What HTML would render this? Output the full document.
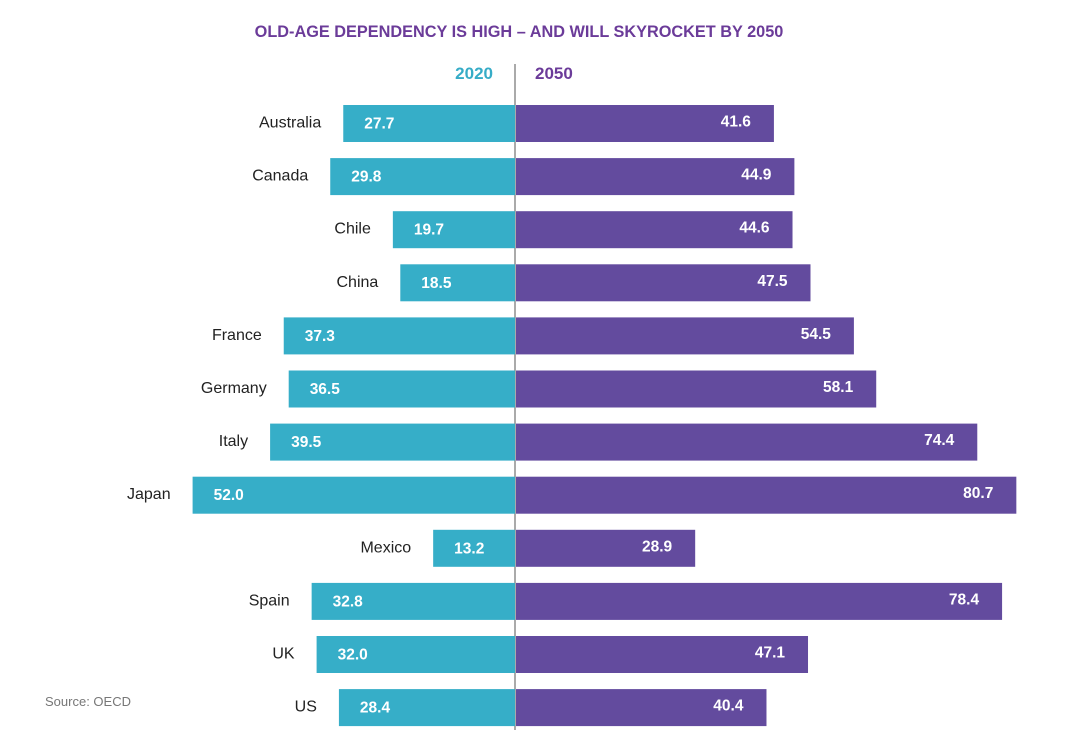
<!DOCTYPE html>
<html><head><meta charset="utf-8"><style>
body{margin:0;background:#fff;width:1080px;height:730px;overflow:hidden;font-family:"Liberation Sans",sans-serif}
</style></head><body>
<svg width="1080" height="730" xmlns="http://www.w3.org/2000/svg">
<text x="519" y="37" text-anchor="middle" font-size="16.3" font-weight="bold" fill="#6b3b99">OLD-AGE DEPENDENCY IS HIGH – AND WILL SKYROCKET BY 2050</text>
<text x="493" y="79" text-anchor="end" font-size="17" font-weight="bold" fill="#36acc7">2020</text>
<text x="535" y="79" font-size="17" font-weight="bold" fill="#6b3b99">2050</text>
<line x1="515" y1="64" x2="515" y2="730" stroke="#aaa" stroke-width="2"/>
<text x="45" y="706" font-size="13" fill="#777">Source: OECD</text>
<g id="bars"></g>
</svg>
<script>
const countries=["Australia","Canada","Chile","China","France","Germany","Italy","Japan","Mexico","Spain","UK","US"];
const values2020=[27.7,29.8,19.7,18.5,37.3,36.5,39.5,52.0,13.2,32.8,32.0,28.4];
const values2050=[41.6,44.9,44.6,47.5,54.5,58.1,74.4,80.7,28.9,78.4,47.1,40.4];
const g=document.getElementById('bars');
const NS="http://www.w3.org/2000/svg";
const cx=515, k=6.2, top0=123.5, step=53.1, bh=37;
const yc=i=>top0+i*step;
function mk(t,a){const e=document.createElementNS(NS,t);for(const n in a)e.setAttribute(n,a[n]);g.appendChild(e);return e;}
countries.forEach((c,i)=>{
  const y=yc(i), w1=values2020[i]*k, w2=values2050[i]*k;
  const r1=mk('rect',{x:cx-w1,y:y-bh/2,width:w1,height:bh,fill:'#36aec8'});
  
  
  const r2=mk('rect',{x:cx+1,y:y-bh/2,width:w2,height:bh,fill:'#634b9e'});
  
  
  const l=mk('text',{x:cx-w1-22,y:y+4,'text-anchor':'end','font-size':16,fill:'#222'});
  l.textContent=c;
  
  
  const v1=mk('text',{x:cx-w1+21,y:y+5,'font-size':15.5,'font-weight':'bold',fill:'#fff'});
  v1.textContent=values2020[i].toFixed(1);
  
  
  const v2=mk('text',{x:cx+w2-22,y:y+3,'text-anchor':'end','font-size':15.5,'font-weight':'bold',fill:'#fff'});
  v2.textContent=values2050[i].toFixed(1);
  
  
});
</script>
</body></html>
